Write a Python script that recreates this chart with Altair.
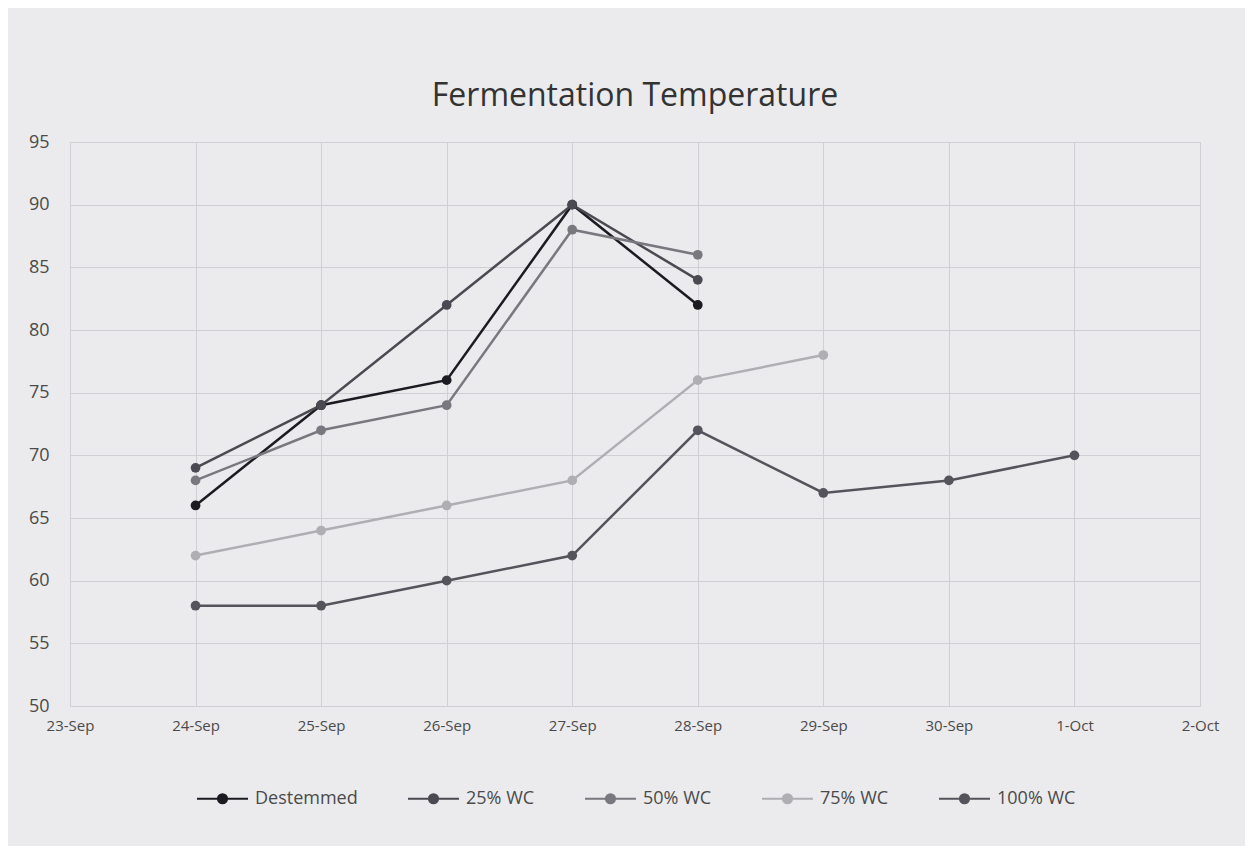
import altair as alt
import pandas as pd

dates = ["23-Sep", "24-Sep", "25-Sep", "26-Sep", "27-Sep", "28-Sep", "29-Sep", "30-Sep", "1-Oct", "2-Oct"]
series_names = ["Destemmed", "25% WC", "50% WC", "75% WC", "100% WC"]
series_colors = ["#1d1b22", "#4b4951", "#7a787f", "#afaeb3", "#55535b"]

destemmed = [66, 74, 76, 90, 82]
wc25 = [69, 74, 82, 90, 84]
wc50 = [68, 72, 74, 88, 86]
wc75 = [62, 64, 66, 68, 76, 78]
wc100 = [58, 58, 60, 62, 72, 67, 68, 70]

all_values = [destemmed, wc25, wc50, wc75, wc100]
rows = []
for name, vals in zip(series_names, all_values):
    for i, v in enumerate(vals):
        rows.append({"Date": dates[1 + i], "Temp": v, "Series": name})
df = pd.DataFrame(rows)

x = alt.X("Date:O", sort=dates,
          scale=alt.Scale(type="point", domain=dates, padding=0),
          axis=alt.Axis(title=None, labelAngle=0, grid=True, gridColor="#cfcfd4",
                        labelFont="Open Sans", labelFontSize=15, labelColor="#4a4a4a",
                        labelPadding=12, ticks=False, domain=False))
y = alt.Y("Temp:Q", scale=alt.Scale(domain=[50, 95], nice=False, zero=False),
          axis=alt.Axis(title=None, values=list(range(50, 96, 5)), grid=True, gridColor="#cfcfd4",
                        labelFont="Open Sans", labelFontSize=18, labelColor="#4a4a4a",
                        labelPadding=21, ticks=False, domain=False))

legend_path = "M-1,0H-0.18M0.18,0H1M0.18,0A0.18,0.18,0,1,1,-0.18,0A0.18,0.18,0,1,1,0.18,0Z"
color = alt.Color("Series:N", sort=series_names,
                  scale=alt.Scale(domain=series_names, range=series_colors),
                  legend=alt.Legend(title=None, orient="none", direction="horizontal",
                                    legendX=126, legendY=630,
                                    symbolType=legend_path, symbolSize=2600, symbolStrokeWidth=2,
                                    labelFont="Open Sans", labelFontSize=18, labelColor="#4a4a4a",
                                    labelOffset=6, columnPadding=46, symbolOffset=0))

lines = alt.Chart(df).mark_line(strokeWidth=2.5).encode(x=x, y=y, color=color, detail="Series:N")
points = alt.Chart(df).mark_circle(size=95, opacity=1).encode(x=x, y=y, color=color)

chart = alt.layer(lines, points).properties(
    width=1130, height=564,
    title=alt.TitleParams("Fermentation Temperature", font="Open Sans", fontSize=32,
                          fontWeight="normal", color="#333333", anchor="middle", offset=20),
    background="#ebebed",
    autosize=alt.AutoSizeParams(type="none"),
    padding={"left": 62, "top": 134, "right": 45, "bottom": 140},
).configure_view(stroke="#c9c9ce", strokeWidth=1)

chart.save("out.html", embed_options={"renderer": "svg", "actions": False})
